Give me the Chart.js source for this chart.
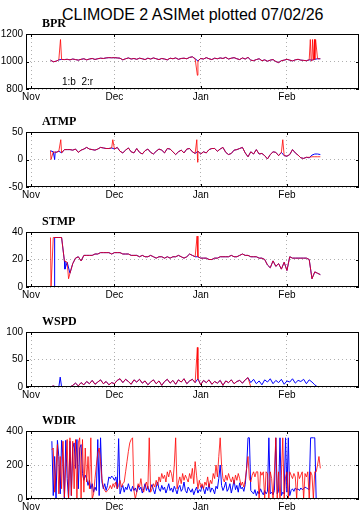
<!DOCTYPE html>
<html lang="en">
<head>
  <meta charset="UTF-8" />
  <title>CLIMODE 2 ASIMet</title>
  <script src="https://cdn.jsdelivr.net/npm/chart.js"></script>
  <style>
    body {
      margin: 0;
      width: 364px;
      height: 531px;
      background: #fff;
      position: relative;
      overflow: hidden;
      font-family: "Liberation Sans", Arial, sans-serif;
    }
    canvas { position: absolute; left: 0; }
    .main-title {
      position: absolute;
      left: 62px;
      top: 6px;
      font-size: 16px;
      line-height: 18px;
      white-space: nowrap;
      color: #000;
    }
    .panel-title {
      position: absolute;
      left: 42px;
      font-family: "Liberation Serif", "DejaVu Serif", serif;
      font-weight: bold;
      font-size: 12px;
      line-height: 13px;
      color: #000;
    }
    .legend-note {
      position: absolute;
      left: 62px;
      top: 77px;
      font-size: 10px;
      line-height: 10px;
      white-space: pre;
    }
  </style>
</head>
<body>
  <canvas id="bpr" width="364" height="82" style="top:25px"></canvas>
  <canvas id="atmp" width="364" height="82" style="top:123px"></canvas>
  <canvas id="stmp" width="364" height="82" style="top:223px"></canvas>
  <canvas id="wspd" width="364" height="82" style="top:323px"></canvas>
  <canvas id="wdir" width="364" height="95" style="top:422px"></canvas>

  <div class="main-title">CLIMODE 2 ASIMet plotted 07/02/26</div>
  <div class="panel-title" style="top:17px">BPR</div>
  <div class="panel-title" style="top:115px">ATMP</div>
  <div class="panel-title" style="top:215px">STMP</div>
  <div class="panel-title" style="top:315px">WSPD</div>
  <div class="panel-title" style="top:414px">WDIR</div>
  <div class="legend-note">1:b  2:r</div>

  <script>
    // x axis = days after 1 Nov
    const MONTH_DAYS = [0, 30, 61, 92];
    const MONTH_LABELS = ['Nov', 'Dec', 'Jan', 'Feb'];
    const X_MIN = -1.8;
    const X_MAX = 117.9;

    // daily samples start on day 7 (8 Nov)
    const DAY0 = 7;

    const BPR_TICKS = [800, 1000, 1200];
    const bprBase = [
      1010, 998, 1002, 1012, 1015, 1014, 1016, 1012, 1018, 1014,
      1010, 1016, 1020, 1012, 1018, 1022, 1015, 1020, 1024, 1022,
      1026, 1028, 1027, 1028, 1026, 1024, 1012, 1020, 1026, 1018,
      1022, 1016, 1024, 1020, 1014, 1024, 1018, 1026, 1020, 1014,
      1022, 1018, 1012, 1024, 1020, 1026, 1016, 1022, 1024, 1020,
      1030, 1034, 1020, 1004, 1022, 1018, 1028, 1020, 1014, 1024,
      1020, 1026, 1022, 1030, 1018, 1024, 1028, 1020, 1014, 1026,
      1018, 1030, 1010, 1006, 1014, 1020, 1006, 1012, 1002, 1010,
      1014, 1000, 992, 1006, 1010, 1016, 1010, 1004, 1012, 1016,
      1010, 1008, 1006, 1012, 1010, 1016, 1020, 1020
    ];
    const bprRedSpikes = [[10.6, 1160], [59.8, 900], [100.4, 1160], [100.7, 1005], [101.2, 1160], [101.6, 1010], [101.9, 1160], [102.3, 1160]];

    const ATMP_TICKS = [-50, 0, 50];
    const atmpBase = [
      16, 14, 13, 15, 12, 18, 18, 18, 17, 19,
      13, 17, 19, 22, 19, 18, 17, 19, 22, 21,
      20, 20, 21, 19, 22, 15, 12, 17, 21, 14,
      12, 20, 13, 10, 16, 19, 13, 10, 15, 19,
      17, 12, 20, 19, 14, 9, 14, 17, 12, 19,
      20, 14, 11, 15, 10, 14, 12, 18, 20, 20,
      15, 19, 22, 13, 9, 11, 17, 18, 20, 22,
      12, 5, 14, 10, 18, 10, 11, 7, 1, 9,
      14, 13, 7, 13, 7, 6, 9, 18, 12, 8,
      3, 2, 4, 3, 8, 10, 10, 9
    ];
    const atmpRedEnd = [4, 5, 5, 5, 5];   // days 100-104
    const atmpBlueSpikes = [[8.5, 0], [8.7, 14]];
    const atmpRedSpikes = [[7.2, 0], [10.7, 36], [29.4, 36], [59.6, 36], [59.9, -5], [90.5, 36]];

    const STMP_TICKS = [0, 20, 40];
    const stmpBase = [
      36, 36, 36, 36, 36, 19, 18, 10, 17, 21,
      22, 19, 23, 23, 23, 23, 24, 24, 25, 25,
      25, 25, 24, 25, 25, 25, 24, 24, 24, 23,
      23, 23, 22, 23, 22, 22, 23, 22, 21, 22,
      22, 21, 22, 21, 22, 22, 23, 22, 21, 22,
      24, 23, 22, 22, 21, 21, 21, 20, 20, 21,
      21, 22, 22, 22, 22, 23, 22, 22, 23, 24,
      23, 23, 22, 22, 22, 21, 21, 20, 16, 14,
      19, 15, 17, 13, 18, 12, 22, 21, 21, 21,
      21, 21, 21, 20, 6, 11, 10, 9
    ];
    const stmpBlueSpikes = [[8.3, 0], [8.5, 36], [12.2, 13]];
    const stmpRedSpikes = [[7.2, 0], [13.5, 6], [59.7, 37]];

    const WSPD_TICKS = [0, 50, 100];
    const wspdRed = [
      0, 2, 0, 0, 0, 0, 0, 0, 3, 7,
      2, 8, 4, 10, 6, 12, 5, 9, 13, 6,
      10, 4, 8, 6, 12, 15, 8, 14, 10, 5,
      13, 9, 14, 7, 11, 4, 9, 13, 6, 11,
      3, 10, 14, 7, 12, 5, 13, 9, 15, 6,
      11, 14, 8, 15, 4, 12, 8, 13, 5, 10,
      7, 12, 3, 11, 8, 13, 6, 10, 12, 7,
      13, 17, 0, 0, 0, 0, 0, 0, 0, 0,
      0, 0, 0, 0, 0, 0, 0, 0, 0, 0,
      0, 0, 0, 0, 0, 0, 0, 0
    ];
    const wspdBlueEnd = [   // days 79-104
      8, 14, 6, 11, 4, 13, 9, 15, 6, 12,
      8, 14, 5, 11, 9, 15, 7, 12, 10, 14,
      6, 13, 9, 4, 0, 0
    ];
    const wspdBlueSpikes = [[10.5, 18]];
    const wspdRedSpikes = [[59.8, 72]];

    // wind direction sampled every half day from day 7.5
    const WDIR_TICKS = [0, 200, 400];
    const wdirBlue = [
      340, 20, 250, 0, 345, 250, 30, 345, 250, 0, 345, 120, 0, 340, 20, 300, 330, 180, 350, 60,
      300, 320, 150, 110, 140, 120, 80, 110, 60, 90, 40, 70, 50, 350, 20, 360, 100, 60, 90, 50,
      80, 130, 120, 135, 125, 110, 130, 60, 355, 30, 60, 80, 40, 70, 55, 90, 60, 45, 75, 50,
      65, 40, 80, 55, 70, 35, 60, 90, 50, 75, 40, 65, 85, 55, 30, 70, 100, 60, 45, 80,
      55, 70, 35, 60, 90, 50, 65, 40, 75, 55, 30, 65, 80, 45, 60, 100, 50, 35, 70, 55,
      40, 60, 25, 50, 70, 35, 55, 45, 80, 60, 30, 70, 50, 90, 40, 65, 55, 30, 75, 60,
      120, 200, 80, 50, 70, 100, 45, 60, 90, 35, 70, 110, 55, 80, 40, 95, 60, 70, 45, 85,
      180, 360, 360, 50, 40, 30, 55, 20, 45, 30, 60, 40, 25, 50, 30, 45, 360, 30, 40, 25,
      50, 360, 30, 45, 360, 20, 40, 30, 360, 40, 360, 20, 50, 60, 45, 65, 55, 60, 50, 65,
      55, 60, 70, 65, 60, 55, 360, 360, 360, 360, 0, 0, 0, 0
    ];
    const wdirRed = [
      290, 300, 40, 180, 320, 30, 250, 60, 340, 10, 200, 350, 0, 360, 20, 340, 60, 350, 0, 330,
      360, 0, 350, 40, 300, 100, 250, 60, 360, 0, 30, 120, 200, 270, 300, 220, 120, 70, 50, 40,
      50, 60, 80, 60, 90, 70, 100, 60, 80, 110, 70, 90, 100, 160, 220, 280, 330, 350, 360, 50,
      0, 40, 90, 70, 120, 60, 40, 80, 100, 60, 360, 40, 60, 90, 70, 110, 80, 130, 100, 150,
      120, 140, 100, 160, 130, 170, 150, 100, 200, 360, 60, 100, 130, 90, 150, 110, 140, 120, 100, 150,
      120, 180, 90, 220, 140, 60, 110, 70, 90, 60, 100, 80, 130, 70, 110, 90, 150, 120, 200, 130,
      250, 360, 200, 120, 100, 140, 110, 150, 120, 100, 130, 90, 140, 110, 150, 120, 80, 100, 70, 110,
      180, 250, 120, 100, 140, 160, 130, 160, 160, 0, 160, 140, 160, 0, 160, 150, 0, 160, 120, 0,
      160, 360, 0, 160, 0, 140, 360, 0, 130, 160, 0, 160, 140, 120, 150, 130, 0, 160, 120, 140,
      160, 0, 150, 130, 160, 0, 160, 140, 0, 160, 160, 200, 250, 180
    ];

    const BLUE = '#0000ff';
    const RED = 'rgba(255, 0, 0, 0.8)';

    function series(start, step, values, extra) {
      const pts = values.map((v, i) => ({ x: start + i * step, y: v }));
      (extra || []).forEach(p => pts.push({ x: p[0], y: p[1] }));
      return pts.sort((a, b) => a.x - b.x);
    }

    // box around the plot + small inward tick marks
    const framePlugin = {
      id: 'frame',
      afterDraw(chart) {
        const a = chart.chartArea;
        const c = chart.ctx;
        const xs = chart.scales.x, ys = chart.scales.y;
        c.save();
        c.strokeStyle = '#000';
        c.lineWidth = 1;
        c.strokeRect(a.left + 0.5, a.top + 0.5, a.right - a.left - 1, a.bottom - a.top - 1);
        c.beginPath();
        xs.ticks.forEach(t => {
          const px = Math.round(xs.getPixelForValue(t.value)) + 0.5;
          c.moveTo(px, a.bottom); c.lineTo(px, a.bottom - 3);
          c.moveTo(px, a.top); c.lineTo(px, a.top + 3);
        });
        ys.ticks.forEach(t => {
          const py = Math.round(ys.getPixelForValue(t.value)) + 0.5;
          c.moveTo(a.left, py); c.lineTo(a.left + 3, py);
          c.moveTo(a.right, py); c.lineTo(a.right - 3, py);
        });
        c.stroke();
        c.restore();
      }
    };

    const tickFont = { family: '"Liberation Sans", Arial, sans-serif', size: 10 };

    function makePanel(id, yMin, yMax, yTicks, blueData, redData) {
      new Chart(document.getElementById(id), {
        type: 'line',
        data: {
          datasets: [
            { label: '2', data: redData, borderColor: RED, order: 0 },
            { label: '1', data: blueData, borderColor: BLUE, order: 1 }
          ]
        },
        options: {
          responsive: false,
          animation: false,
          layout: { padding: { top: 6, right: 5, left: 0, bottom: 0 } },
          elements: {
            point: { radius: 0 },
            line: { borderWidth: 1, tension: 0 }
          },
          plugins: { legend: { display: false }, tooltip: { enabled: false } },
          scales: {
            x: {
              type: 'linear',
              min: X_MIN,
              max: X_MAX,
              afterBuildTicks: s => { s.ticks = MONTH_DAYS.map(v => ({ value: v })); },
              afterFit: s => { s.height = 18; },
              ticks: {
                autoSkip: false,
                maxRotation: 0,
                padding: 2,
                color: '#000',
                font: tickFont,
                callback: (v, i) => MONTH_LABELS[i]
              },
              grid: { color: '#b0b0b0', drawTicks: false },
              border: { display: false, dash: [1, 3] }
            },
            y: {
              min: yMin,
              max: yMax,
              afterBuildTicks: s => { s.ticks = yTicks.map(v => ({ value: v })); },
              afterFit: s => { s.width = 26; },
              ticks: { padding: 3, color: '#000', font: tickFont, callback: v => String(v) },
              grid: { color: '#b0b0b0', drawTicks: false },
              border: { display: false, dash: [1, 3] }
            }
          }
        },
        plugins: [framePlugin]
      });
    }

    makePanel('bpr', 800, 1200, BPR_TICKS,
      series(DAY0, 1, bprBase),
      series(DAY0, 1, bprBase, bprRedSpikes));

    makePanel('atmp', -50, 50, ATMP_TICKS,
      series(DAY0, 1, atmpBase, atmpBlueSpikes),
      series(DAY0, 1, atmpBase.slice(0, 93).concat(atmpRedEnd), atmpRedSpikes));

    makePanel('stmp', 0, 40, STMP_TICKS,
      series(DAY0 + 2, 1, stmpBase.slice(2), stmpBlueSpikes),
      series(DAY0, 1, stmpBase, stmpRedSpikes));

    makePanel('wspd', 0, 100, WSPD_TICKS,
      series(DAY0, 1, wspdRed.slice(0, 72).concat(wspdBlueEnd), wspdBlueSpikes),
      series(DAY0, 1, wspdRed, wspdRedSpikes));

    makePanel('wdir', 0, 400, WDIR_TICKS,
      series(DAY0 + 0.5, 0.5, wdirBlue),
      series(DAY0 + 0.5, 0.5, wdirRed));
  </script>
</body>
</html>
